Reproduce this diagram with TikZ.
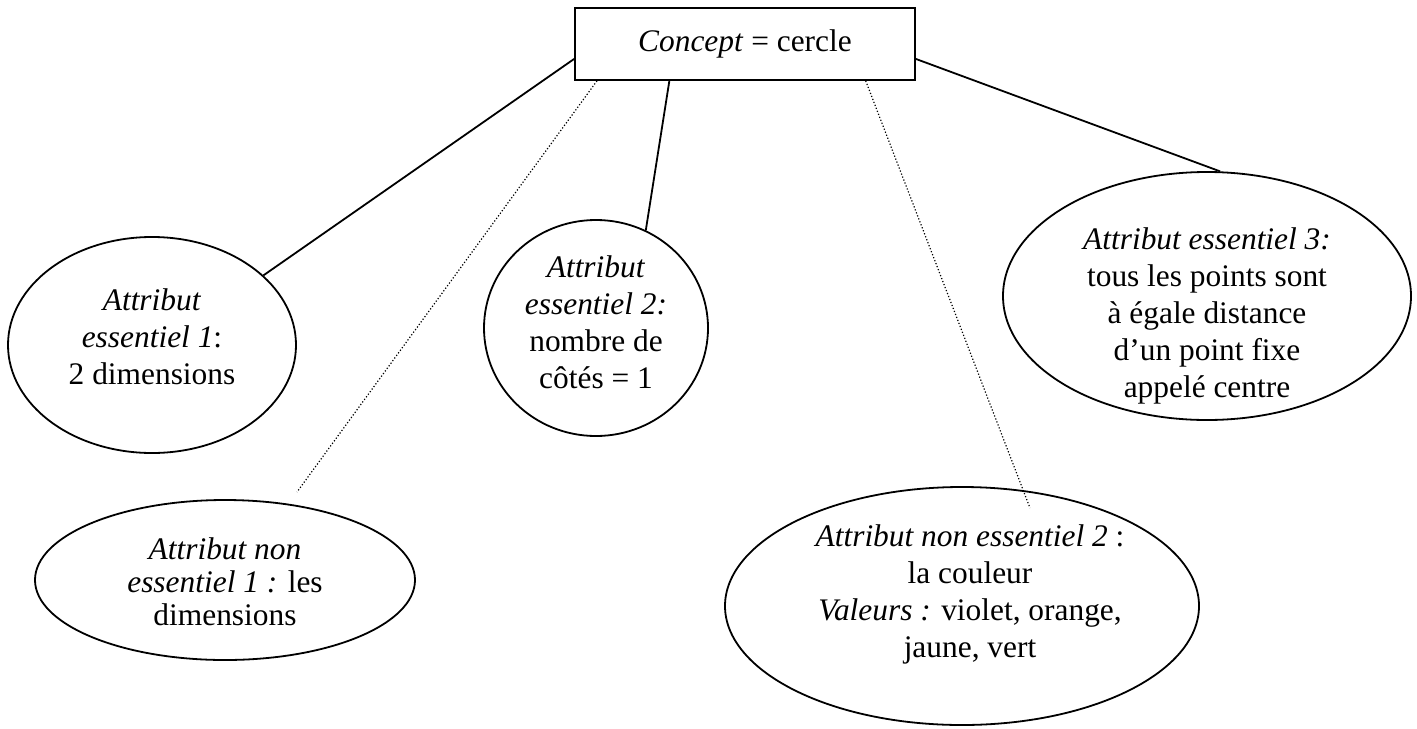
\documentclass[tikz,border=0pt]{standalone}
\usepackage{fontspec}
\setmainfont{Liberation Serif}
\usetikzlibrary{shapes.geometric}
\tikzset{
  txt/.style={font=\fontsize{15.7}{18.5}\selectfont, align=center, inner sep=0pt},
  oval/.style={draw, ellipse, line width=0.9pt, inner sep=0pt},
  conceptbox/.style={draw, rectangle, line width=0.9pt, minimum width=170pt, minimum height=36pt, inner sep=0pt, font=\fontsize{15.7}{18.5}\selectfont},
  solidlink/.style={line width=0.9pt},
  dotlink/.style={line width=0.6pt, densely dotted}
}
\begin{document}
\begin{tikzpicture}[x=0.5pt,y=-0.5pt]
\useasboundingbox (0,0) rectangle (1417,728);
% concept box
\node[conceptbox] (box) at (745,44) {\textit{Concept} = cercle};
% ellipses
\node[oval, minimum width=144pt, minimum height=108pt] (e1) at (152,345) {};
\node[oval, minimum width=190pt, minimum height=80pt] (ne1) at (225,580) {};
\node[oval, minimum width=112pt, minimum height=108pt] (e2) at (596,328) {};
\node[oval, minimum width=204pt, minimum height=124pt] (e3) at (1207,296) {};
\node[oval, minimum width=237pt, minimum height=119pt] (ne2) at (962,606) {};
% texts
\node[txt] (e1t) at (152,337) {\textit{Attribut}\\\textit{essentiel 1}:\\2 dimensions};
\node[txt] (e2t) at (596,322) {\textit{Attribut}\\\textit{essentiel 2:}\\nombre de\\côtés = 1};
\node[txt] (e3t) at (1207,316) {\textit{Attribut essentiel 3:}\\tous les points sont\\à égale distance\\d’un point fixe\\appelé centre};
\node[txt, font=\fontsize{15.7}{16.5}\selectfont] (ne1t) at (225,582) {\textit{Attribut non}\\\textit{essentiel 1 :} les\\dimensions};
\node[txt] (ne2t) at (970,594) {\textit{Attribut non essentiel 2} :\\la couleur\\\textit{Valeurs :} violet, orange,\\jaune, vert};
% free ends of dotted links
\coordinate (d1) at (297,492);
\coordinate (d2) at (1030,508);
% connectors
\draw[solidlink] (box.185) -- (e1.32);
\draw[dotlink] (box.194) -- (d1);
\draw[solidlink] (box.206) -- (e2.63);
\draw[dotlink] (box.343) -- (d2);
\draw[solidlink] (box.355) -- (e3.84);
\end{tikzpicture}
\end{document}
